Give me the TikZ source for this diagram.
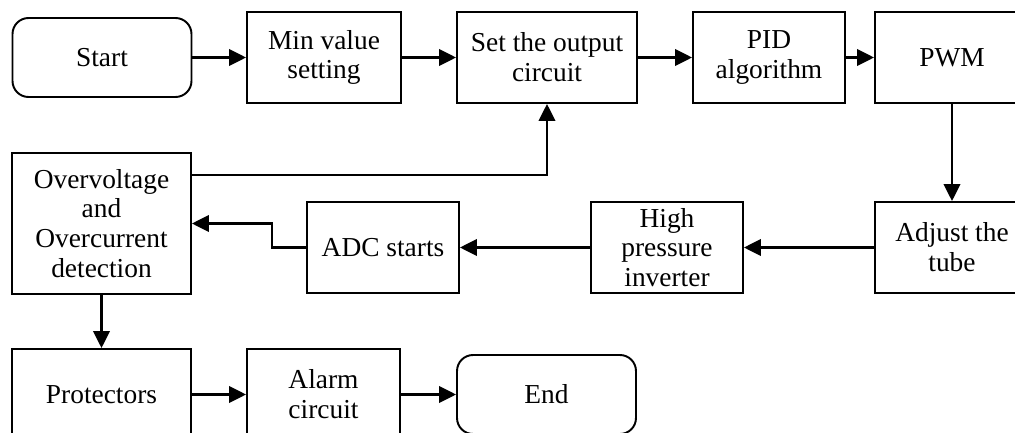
\documentclass[tikz,border=0pt]{standalone}
\usepackage{fontspec}
\setmainfont{Liberation Serif}
\usetikzlibrary{arrows.meta}
\tikzset{
  blk/.style={draw, line width=1.1pt, align=center, minimum height=1.82cm, inner sep=1pt,
    font=\fontsize{15.6}{17}\selectfont},
  term/.style={blk, rounded corners=0.32cm, minimum height=1.58cm},
  flow/.style={line width=1.4pt, -{Triangle[length=3.4mm,width=3.3mm]}}
}
\begin{document}
\begin{tikzpicture}[x=0.02cm, y=-0.02cm]
  \useasboundingbox (0,0) rectangle (1015,433);
  \clip (0,0) rectangle (1015,433);
  % Top row
  \node[term, minimum width=3.58cm] (start) at (102,57.5) {Start};
  \node[blk, minimum width=3.08cm] (minval) at (324,57.5) {Min value\\setting};
  \node[blk, minimum width=3.6cm] (setout) at (547,57.5) {Set the output\\circuit};
  \node[blk, minimum width=3.04cm] (pid) at (769,57.5) {PID\\algorithm};
  \node[blk, minimum width=3.08cm] (pwm) at (952,57.5) {PWM};
  % Middle row
  \node[blk, minimum width=3.58cm, minimum height=2.82cm] (over) at (101.5,223.5)
    {Overvoltage\\and\\Overcurrent\\detection};
  \node[blk, minimum width=3.04cm] (adc) at (383,247.5) {ADC starts};
  \node[blk, minimum width=3.04cm] (hpi) at (667,247.5) {High\\pressure\\inverter};
  \node[blk, minimum width=3.08cm] (adjust) at (952,247.5) {Adjust the\\tube};
  % Bottom row
  \node[blk, minimum width=3.58cm] (prot) at (101.5,394.5) {Protectors};
  \node[blk, minimum width=3.06cm] (alarm) at (323.5,394.5) {Alarm\\circuit};
  \node[term, minimum width=3.58cm] (end) at (546.5,394.5) {End};
  % Connectors
  \foreach \a/\b in {start/minval, minval/setout, setout/pid, pid/pwm, prot/alarm, alarm/end}
    \draw[flow] (\a.east) -- (\b.west);
  \foreach \a/\b in {adjust/hpi, hpi/adc}
    \draw[flow] (\a.west) -- (\b.east);
  \draw[flow] (pwm.south) -- (adjust.north);
  \draw[flow] (over.south) -- (prot.north);
  \draw[flow] (adc.west) -- ++(-34,0) |- (over.east);
  \coordinate (fb) at (547,175);
  \draw[flow] (over.east |- fb) -| (setout.south);
\end{tikzpicture}
\end{document}
